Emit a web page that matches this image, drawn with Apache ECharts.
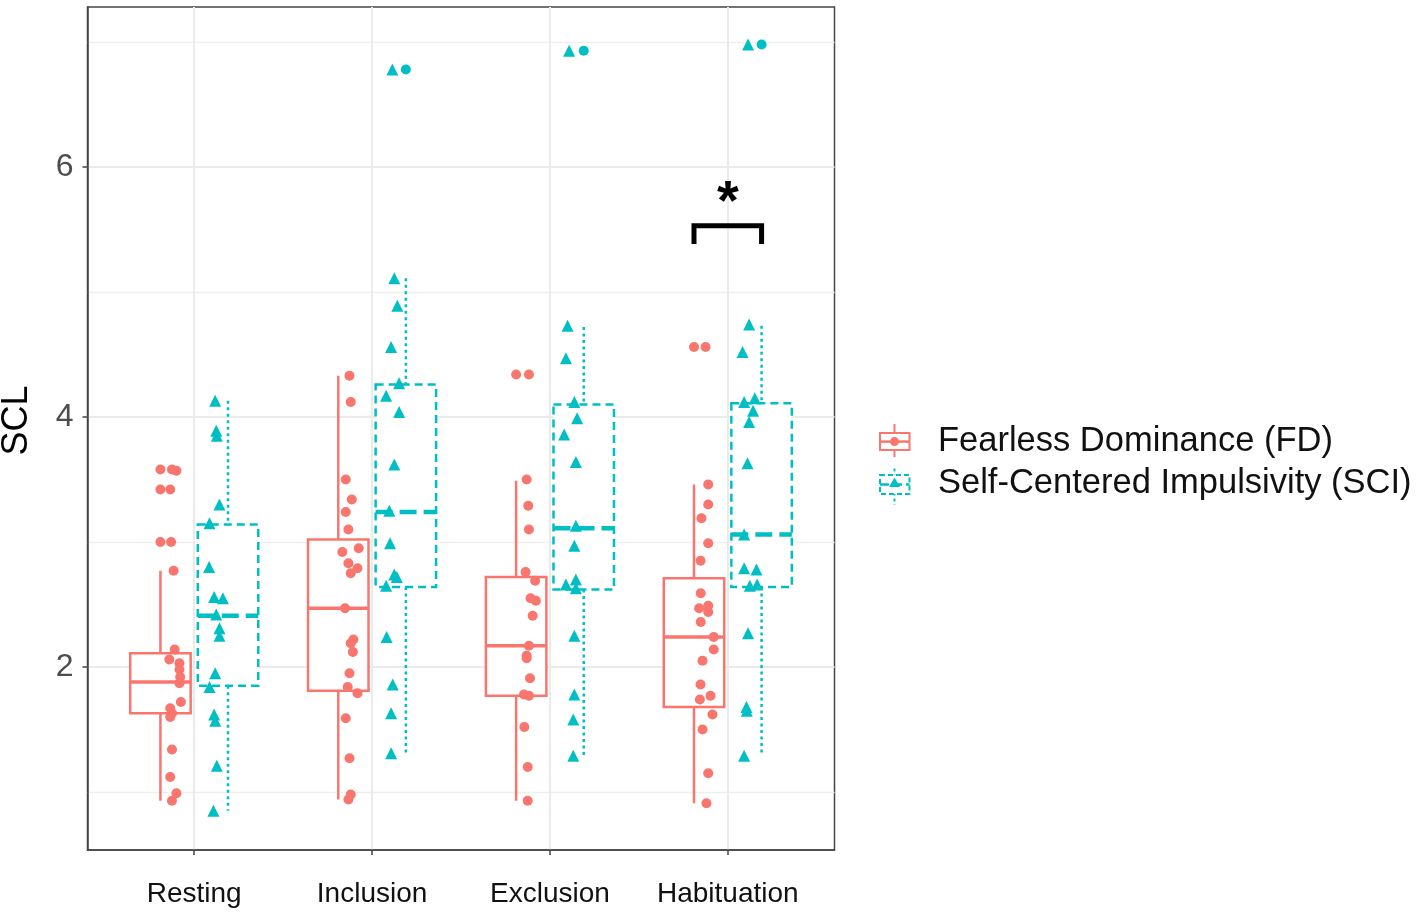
<!DOCTYPE html>
<html><head><meta charset="utf-8">
<script src="https://cdn.jsdelivr.net/npm/echarts@6/dist/echarts.min.js"></script>
<style>html,body{margin:0;padding:0;background:#fff}#c{width:1417px;height:917px}</style>
</head><body><div id="c"></div>
<script>
// ---------- data ----------
const categories = ['Resting', 'Inclusion', 'Exclusion', 'Habituation'];
const seriesNames = ['Fearless Dominance (FD)', 'Self-Centered Impulsivity (SCI)'];
const yTickValues = [2, 4, 6];
const yMinorGrid = [1, 3, 5, 7];

// box stats per category: [lower whisker, Q1, median, Q3, upper whisker]
const fdBox = [
  [0.93, 1.63, 1.88, 2.11, 2.77],
  [0.94, 1.81, 2.47, 3.02, 4.33],
  [0.93, 1.77, 2.17, 2.72, 3.49],
  [0.91, 1.68, 2.24, 2.71, 3.46]
];
const sciBox = [
  [0.85, 1.85, 2.41, 3.14, 4.13],
  [1.30, 2.64, 3.24, 4.26, 5.11],
  [1.29, 2.62, 3.11, 4.10, 4.72],
  [1.29, 2.64, 3.06, 4.11, 4.73]
];
const fdOutliers = [[3.58, 3.42, 3.00], [], [4.34], [4.56]];
const sciOutliers = [[], [6.78], [6.93], [6.98]];

const fdValues = [
  [3.58, 3.57, 3.42, 3.00, 2.77, 2.14, 2.06, 2.03, 1.98, 1.92, 1.87, 1.72, 1.67, 1.63, 1.60, 1.34, 1.12, 0.99, 0.93],
  [4.33, 4.12, 3.50, 3.34, 3.24, 3.10, 2.95, 2.92, 2.83, 2.79, 2.75, 2.47, 2.22, 2.19, 2.12, 1.95, 1.84, 1.79, 1.59, 1.27, 0.98, 0.94],
  [4.34, 3.50, 3.29, 3.10, 2.76, 2.69, 2.55, 2.53, 2.41, 2.17, 2.09, 2.07, 1.91, 1.78, 1.77, 1.52, 1.20, 0.93],
  [4.56, 3.46, 3.30, 3.19, 2.99, 2.85, 2.59, 2.49, 2.47, 2.44, 2.36, 2.24, 2.14, 2.05, 1.86, 1.77, 1.74, 1.62, 1.50, 1.15, 0.91]
];
const fdJitter = [
  [-0.125, -0.10, -0.135, -0.13, -0.116, -0.11, -0.14, -0.083, -0.083, -0.079, -0.083, -0.075, -0.135, -0.125, -0.135, -0.125, -0.135, -0.10, -0.125],
  [-0.127, -0.12, -0.148, -0.114, -0.148, -0.133, -0.075, -0.167, -0.133, -0.082, -0.12, -0.152, -0.105, -0.12, -0.108, -0.127, -0.137, -0.082, -0.148, -0.127, -0.12, -0.133],
  [-0.118, -0.131, -0.122, -0.118, -0.137, -0.083, -0.109, -0.079, -0.097, -0.118, -0.131, -0.131, -0.112, -0.146, -0.118, -0.144, -0.125, -0.125],
  [-0.125, -0.11, -0.11, -0.148, -0.11, -0.153, -0.152, -0.11, -0.161, -0.11, -0.152, -0.079, -0.079, -0.142, -0.153, -0.097, -0.157, -0.086, -0.142, -0.11, -0.12]
];
const sciValues = [
  [4.13, 3.89, 3.85, 3.30, 3.15, 2.80, 2.56, 2.55, 2.42, 2.31, 2.25, 1.95, 1.84, 1.62, 1.57, 1.21, 0.85],
  [6.78, 5.11, 4.89, 4.56, 4.27, 4.17, 4.04, 3.62, 3.25, 2.99, 2.74, 2.72, 2.65, 2.24, 1.86, 1.63, 1.31],
  [6.93, 4.73, 4.47, 4.12, 3.99, 3.86, 3.64, 3.13, 2.97, 2.70, 2.66, 2.63, 2.25, 1.78, 1.58, 1.29],
  [6.98, 4.74, 4.52, 4.15, 4.12, 4.05, 3.96, 3.63, 3.06, 2.79, 2.78, 2.66, 2.65, 2.27, 1.68, 1.65, 1.29]
];
const sciJitter = [
  [0.118, 0.124, 0.127, 0.142, 0.086, 0.084, 0.112, 0.161, 0.124, 0.142, 0.142, 0.118, 0.086, 0.112, 0.118, 0.127, 0.108],
  [0.114, 0.125, 0.142, 0.107, 0.152, 0.079, 0.152, 0.125, 0.097, 0.101, 0.125, 0.139, 0.079, 0.082, 0.116, 0.107, 0.107],
  [0.108, 0.099, 0.09, 0.137, 0.153, 0.08, 0.146, 0.146, 0.137, 0.146, 0.09, 0.146, 0.137, 0.137, 0.131, 0.131],
  [0.114, 0.12, 0.083, 0.152, 0.092, 0.142, 0.12, 0.111, 0.092, 0.092, 0.161, 0.165, 0.124, 0.114, 0.105, 0.107, 0.092]
];
// significance annotation
const sigCategory = 'Habituation';
const sigLabel = '*';
const sigBracketTop = 5.53;
const sigBracketLeg = 5.385;
const sigStarY = 5.79;

// ---------- styling ----------
const FD_COLOR = '#F8766D', SCI_COLOR = '#00BFC4';
const DODGE = 0.19, HALF = 0.17;
const FONT = '"Liberation Sans", Arial, Helvetica, sans-serif';

function boxRenderer(color, dodge, dashed) {
  return function (params, api) {
    const x = api.value(0) + dodge;
    const lo = api.value(1), q1 = api.value(2), med = api.value(3), q3 = api.value(4), hi = api.value(5);
    const tl = api.coord([x - HALF, q3]);
    const br = api.coord([x + HALF, q1]);
    const mL = api.coord([x - HALF, med]);
    const mR = api.coord([x + HALF, med]);
    const top = api.coord([x, hi]);
    const bot = api.coord([x, lo]);
    const cTop = api.coord([x, q3]);
    const cBot = api.coord([x, q1]);
    const boxDash = dashed ? [8, 5] : null;
    const whiskDash = dashed ? [3, 3.5] : null;
    const medDash = dashed ? [17, 7] : null;
    return {
      type: 'group',
      children: [
        { type: 'line', shape: { x1: top[0], y1: top[1], x2: cTop[0], y2: cTop[1] },
          style: { stroke: color, lineWidth: 2.5, lineDash: whiskDash } },
        { type: 'line', shape: { x1: cBot[0], y1: cBot[1], x2: bot[0], y2: bot[1] },
          style: { stroke: color, lineWidth: 2.5, lineDash: whiskDash } },
        { type: 'rect', shape: { x: tl[0], y: tl[1], width: br[0] - tl[0], height: br[1] - tl[1] },
          style: { fill: '#fff', stroke: color, lineWidth: 2.5, lineDash: boxDash } },
        { type: 'line', shape: { x1: mL[0], y1: mL[1], x2: mR[0], y2: mR[1] },
          style: { stroke: color, lineWidth: dashed ? 4.5 : 3.5, lineDash: medDash } }
      ]
    };
  };
}

function pointsData(values, jitter) {
  const out = [];
  values.forEach((arr, i) => arr.forEach((v, j) => out.push([i + 1 + jitter[i][j], v])));
  return out;
}
function outlierData(outs, dodge) {
  const out = [];
  outs.forEach((arr, i) => arr.forEach(v => out.push([i + 1 + dodge, v])));
  return out;
}

const sigIdx = categories.indexOf(sigCategory) + 1;

const option = {
  animation: false,
  backgroundColor: '#fff',
  grid: { left: 87.5, right: 582.5, top: 7, bottom: 67, containLabel: false, outerBoundsMode: 'none',
          show: true, borderColor: '#444', borderWidth: 1.5, backgroundColor: 'transparent' },
  xAxis: {
    type: 'value', min: 0.4, max: 4.6,
    axisLine: { show: true, onZero: false, lineStyle: { color: '#444', width: 1.5 } },
    axisTick: { show: true, customValues: [1, 2, 3, 4], length: 5, lineStyle: { color: '#444', width: 1.5 } },
    axisLabel: { customValues: [1, 2, 3, 4], formatter: v => categories[Math.round(v) - 1], fontSize: 28, color: '#111', margin: 30, fontFamily: FONT },
    splitLine: { show: true, lineStyle: { color: '#EBEBEB', width: 2 } }
  },
  yAxis: [
    {
      type: 'value', min: 0.536, max: 7.28,
      name: 'SCL', nameLocation: 'middle', nameGap: 52,
      nameTextStyle: { fontSize: 36, color: '#000', fontFamily: FONT, padding: [0, 0, 0, 16] },
      axisLine: { show: true, onZero: false, lineStyle: { color: '#444', width: 1.5 } },
      axisTick: { show: true, customValues: yTickValues, length: 5, lineStyle: { color: '#444', width: 1.5 } },
      axisLabel: { customValues: yTickValues, fontSize: 32, color: '#4D4D4D', margin: 14, fontFamily: FONT },
      splitLine: { show: true, lineStyle: { color: '#EBEBEB', width: 2 } }
    },
    {
      type: 'value', min: 0.536, max: 7.28, position: 'right',
      axisLine: { show: false }, axisLabel: { show: false },
      axisTick: { show: false, customValues: yMinorGrid },
      splitLine: { show: true, lineStyle: { color: '#EFEFEF', width: 1.3 } }
    }
  ],
  series: [
    { type: 'custom', name: seriesNames[0], renderItem: boxRenderer(FD_COLOR, -DODGE, false),
      data: fdBox.map((b, i) => [i + 1].concat(b)), encode: { x: 0, y: [1, 2, 3, 4, 5] }, z: 2 },
    { type: 'custom', name: seriesNames[1], renderItem: boxRenderer(SCI_COLOR, DODGE, true),
      data: sciBox.map((b, i) => [i + 1].concat(b)), encode: { x: 0, y: [1, 2, 3, 4, 5] }, z: 2 },
    { type: 'scatter', name: seriesNames[0] + ' outliers', data: outlierData(fdOutliers, -DODGE),
      symbol: 'circle', symbolSize: 10, itemStyle: { color: FD_COLOR, opacity: 1 }, z: 3 },
    { type: 'scatter', name: seriesNames[1] + ' outliers', data: outlierData(sciOutliers, DODGE),
      symbol: 'circle', symbolSize: 10, itemStyle: { color: SCI_COLOR, opacity: 1 }, z: 3 },
    { type: 'scatter', name: seriesNames[0] + ' points', data: pointsData(fdValues, fdJitter),
      symbol: 'circle', symbolSize: 10, itemStyle: { color: FD_COLOR, opacity: 1 }, z: 4 },
    { type: 'scatter', name: seriesNames[1] + ' points', data: pointsData(sciValues, sciJitter),
      symbol: 'triangle', symbolSize: 12, itemStyle: { color: SCI_COLOR, opacity: 1 }, z: 4 },
    { type: 'custom', name: 'significance',
      data: [[sigIdx, sigBracketTop, sigBracketLeg, sigStarY]], encode: { x: 0, y: [1, 2, 3] }, z: 5,
      renderItem: function (params, api) {
        const x = api.value(0);
        const pl = api.coord([x - DODGE, api.value(2)]);
        const pt = api.coord([x - DODGE, api.value(1)]);
        const pr = api.coord([x + DODGE, api.value(1)]);
        const prl = api.coord([x + DODGE, api.value(2)]);
        const ps = api.coord([x, api.value(3)]);
        const fs = 56;
        return { type: 'group', children: [
          { type: 'polyline', shape: { points: [pl, pt, pr, prl] },
            style: { stroke: '#000', lineWidth: 5, fill: null, lineJoin: 'miter', lineCap: 'butt' } },
          { type: 'text', x: ps[0], y: ps[1] + fs * 0.19,
            style: { text: sigLabel, font: 'bold ' + fs + 'px ' + FONT, fill: '#000', align: 'center', verticalAlign: 'middle' } }
        ] };
      } }
  ],
  graphic: [
    // legend key FD
    { type: 'line', shape: { x1: 894.5, y1: 424, x2: 894.5, y2: 457 }, style: { stroke: FD_COLOR, lineWidth: 2 } },
    { type: 'rect', shape: { x: 880, y: 433, width: 29.5, height: 17 }, style: { fill: '#fff', stroke: FD_COLOR, lineWidth: 2 } },
    { type: 'line', shape: { x1: 880, y1: 441.6, x2: 909.5, y2: 441.6 }, style: { stroke: FD_COLOR, lineWidth: 2.5 } },
    { type: 'circle', shape: { cx: 894.5, cy: 441.6, r: 4.5 }, style: { fill: FD_COLOR } },
    { type: 'text', x: 938, y: 441, style: { text: seriesNames[0], font: '34.5px ' + FONT, fill: '#111', verticalAlign: 'middle', align: 'left' } },
    // legend key SCI
    { type: 'line', shape: { x1: 894.5, y1: 468.6, x2: 894.5, y2: 505 }, style: { stroke: SCI_COLOR, lineWidth: 2, lineDash: [3, 3] } },
    { type: 'rect', shape: { x: 880, y: 475, width: 29.5, height: 19 }, style: { fill: '#fff', stroke: SCI_COLOR, lineWidth: 2, lineDash: [5, 3] } },
    { type: 'line', shape: { x1: 880, y1: 484.5, x2: 909.5, y2: 484.5 }, style: { stroke: SCI_COLOR, lineWidth: 2.5, lineDash: [9, 4] } },
    { type: 'polygon', shape: { points: [[894.5, 477.5], [900, 487], [889, 487]] }, style: { fill: SCI_COLOR } },
    { type: 'text', x: 938, y: 483, style: { text: seriesNames[1], font: '34.5px ' + FONT, fill: '#111', verticalAlign: 'middle', align: 'left' } }
  ]
};

const chart = echarts.init(document.getElementById('c'), null, { renderer: 'canvas' });
chart.setOption(option);
</script>
</body></html>
